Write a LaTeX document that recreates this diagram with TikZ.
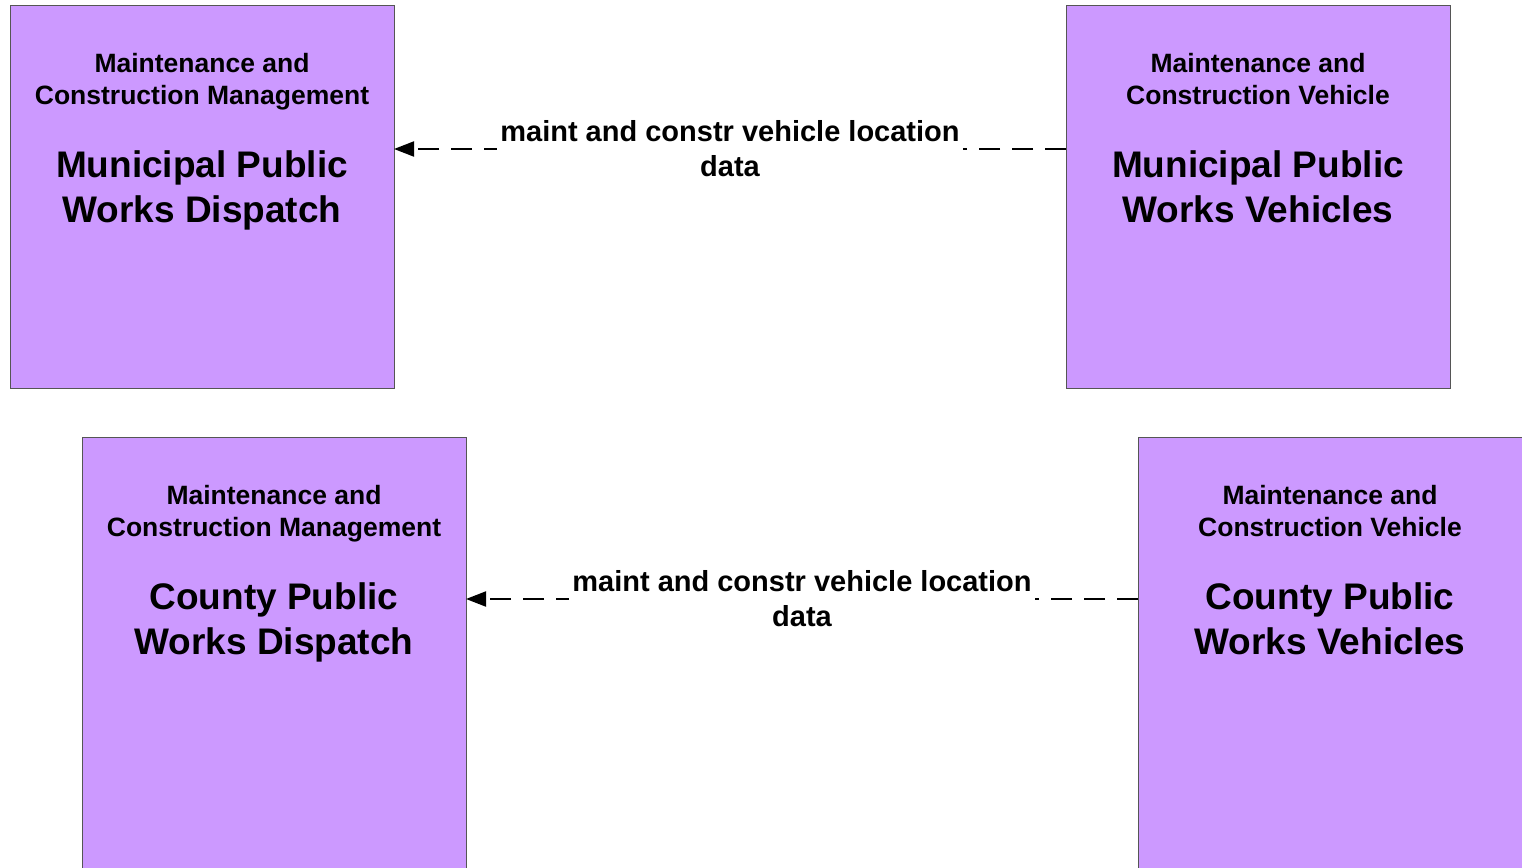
\documentclass[tikz,border=0pt]{standalone}
\usepackage{fontspec}
\setmainfont{Liberation Sans}
\usetikzlibrary{arrows.meta}
\definecolor{boxfill}{HTML}{CC99FF}
\definecolor{boxline}{HTML}{555555}
\tikzset{
  sysbox/.style={draw=boxline, line width=1.3pt, fill=boxfill, minimum width=384pt, minimum height=383pt, anchor=north west, inner sep=0pt},
  tallbox/.style={sysbox, minimum height=470pt},
  smalltitle/.style={font=\bfseries\fontsize{26.5}{32}\selectfont, align=center, inner sep=0pt, text depth=0pt},
  bigtitle/.style={font=\bfseries\fontsize{37}{45}\selectfont, align=center, inner sep=0pt, text depth=0pt},
  flowlabel/.style={font=\bfseries\fontsize{29}{35}\selectfont, align=center, fill=white, inner sep=3pt},
  flow/.style={line width=2pt, dash pattern=on 21pt off 12pt, -{Triangle[length=20pt,width=15pt]}}
}
\begin{document}
\begin{tikzpicture}[x=1pt,y=-1pt]
\useasboundingbox (0,0) rectangle (1522,867);
\clip (0,0) rectangle (1522,867);
\node[sysbox] (mpd) at (10,5) {};
\node[sysbox] (mpv) at (1066,5) {};
\node[tallbox] (cpd) at (82,437) {};
\node[tallbox] (cpv) at (1138,437) {};

\node[smalltitle] (mpdt) at (202,79) {Maintenance and\\Construction Management};
\node[bigtitle] (mpdn) at (202,186.5) {Municipal Public\\Works Dispatch};
\node[smalltitle] (mpvt) at (1258,79) {Maintenance and\\Construction Vehicle};
\node[bigtitle] (mpvn) at (1258,186.5) {Municipal Public\\Works Vehicles};

\node[smalltitle] (cpdt) at (274,511) {Maintenance and\\Construction Management};
\node[bigtitle] (cpdn) at (274,618.5) {County Public\\Works Dispatch};
\node[smalltitle] (cpvt) at (1330,511) {Maintenance and\\Construction Vehicle};
\node[bigtitle] (cpvn) at (1330,618.5) {County Public\\Works Vehicles};

\coordinate (a1) at (1066,149);
\coordinate (b1) at (394,149);
\coordinate (a2) at (1138,599);
\coordinate (b2) at (466,599);
\draw[flow] (a1) -- node[flowlabel] (l1) {maint and constr vehicle location\\data} (b1);
\draw[flow] (a2) -- node[flowlabel] (l2) {maint and constr vehicle location\\data} (b2);
\end{tikzpicture}
\end{document}
